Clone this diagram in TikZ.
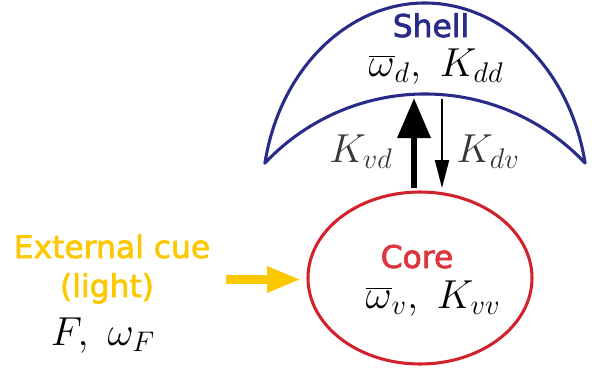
\RequirePackage{fix-cm}
\documentclass[tikz,border=0pt]{standalone}
\usepackage{graphicx}
\usepackage{fontspec}
\newfontface\lbl{DejaVu Sans}[FakeBold=2.2]
\usetikzlibrary{arrows.meta,shapes.geometric}
\definecolor{shellc}{RGB}{40,44,136}
\definecolor{corec}{RGB}{210,34,44}
\definecolor{corel}{RGB}{222,52,62}
\definecolor{cuec}{RGB}{252,200,0}
\definecolor{kgray}{RGB}{55,55,55}
\newcommand{\mymathbig}[1]{\scalebox{1.38}{$#1$}}
\tikzset{
 lbltext/.style={font=\lbl\fontsize{23.5}{27}\selectfont, inner sep=0pt, anchor=base},
 mathtext/.style={font=\fontsize{22}{26}\selectfont, inner sep=0pt, anchor=base},
 shellline/.style={draw=shellc, line width=2.3pt, line join=round},
 corebox/.style={ellipse, draw=corec, line width=2.3pt, inner sep=0pt, minimum width=168pt, minimum height=129pt},
 thickarr/.style={line width=4.9pt, -{Triangle[length=30pt,width=24pt]}},
 thinarr/.style={line width=1.5pt, -{Triangle[length=21pt,width=10.5pt]}},
 cuearr/.style={cuec, line width=6.75pt, -{Triangle[length=25.5pt,width=18pt]}},
}
\begin{document}
\begin{tikzpicture}[x=0.75pt,y=0.75pt]
\useasboundingbox (0,0) rectangle (600,369);
% shell
\draw[shellline] (264.9,205.9) arc[start angle=169.2, end angle=10.8, x radius=163, y radius=197]
   arc[start angle=43.3, end angle=136.7, radius=220] -- cycle;
% core
\node[corebox] (core) at (420,91) {};
% texts
\node[lbltext, text=shellc] (shellname) at (431,332) {Shell};
\node[mathtext] (shellpar) at (436,293) {\mymathbig{\overline{\omega}_d,\ K_{dd}}};
\node[lbltext, text=corel] (corename) at (417,101) {Core};
\node[mathtext] (corepar) at (433,61) {\mymathbig{\overline{\omega}_v,\ K_{vv}}};
\node[lbltext, text=cuec] (cue1) at (112,111) {External cue};
\node[lbltext, text=cuec] (cue2) at (107,72) {(light)};
\node[mathtext] (cuepar) at (103,24) {\mymathbig{F,\ \omega_F}};
\node[mathtext, text=kgray] (kvd) at (361,207) {\mymathbig{K_{vd}}};
\node[mathtext, text=kgray] (kdv) at (488,207) {\mymathbig{K_{dv}}};
% arrow endpoints
\coordinate (vdA) at (414,181);
\coordinate (vdB) at (414,271);
\coordinate (dvA) at (442,270);
\coordinate (dvB) at (442,181);
\coordinate (cueA) at (226,89.5);
\coordinate (cueB) at (301,89.5);
\draw[thickarr] (vdA) -- (vdB);
\draw[thinarr] (dvA) -- (dvB);
\draw[cuearr] (cueA) -- (cueB);
\end{tikzpicture}
\end{document}
